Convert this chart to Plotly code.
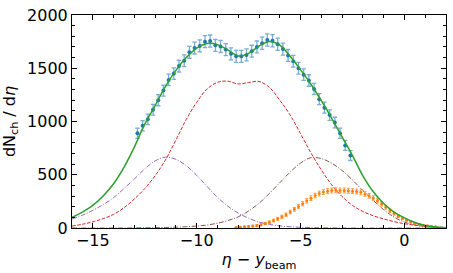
import plotly.graph_objects as go

# ---------------- data ----------------
curve_x = [-16, -15.5, -15, -14.5, -14, -13.5, -13, -12.5, -12, -11.5, -11, -10.5, -10, -9.5, -9,
           -8.5, -8, -7.5, -7, -6.5, -6, -5.5, -5, -4.5, -4, -3.5, -3, -2.5, -2, -1.5, -1, -0.5,
           0, 0.5, 1, 1.5, 2]
total_fit = [100, 150, 212, 300, 415, 570, 760, 975, 1150, 1330, 1480, 1600, 1690, 1732, 1722,
             1672, 1616, 1640, 1708, 1752, 1718, 1612, 1485, 1350, 1195, 1030, 855, 680, 490, 340,
             230, 150, 95, 52, 24, 9, 3]
central = [18, 35, 58, 88, 128, 190, 272, 370, 490, 640, 825, 1020, 1180, 1305, 1368,
           1378, 1352, 1366, 1376, 1320, 1200, 1060, 885, 705, 545, 405, 295, 212, 155, 115,
           85, 60, 40, 26, 16, 9, 5]
left_comp = [85, 120, 165, 220, 285, 370, 460, 555, 630, 665, 645, 585, 495, 390, 288,
             205, 140, 92, 56, 34, 20, 12, 7, 4, 2, 1, 0, 0, 0, 0,
             0, 0, 0, 0, 0, 0, 0]
right_comp = [0, 0, 0, 0, 0, 0, 1, 2, 3, 5, 8, 12, 18, 28, 45,
              70, 105, 160, 232, 325, 425, 525, 610, 660, 652, 608, 540, 450, 352, 258,
              172, 102, 55, 28, 13, 6, 2]

blue_x = [-12.85, -12.6, -12.35, -12.1, -11.85, -11.6, -11.35, -11.1, -10.85, -10.6, -10.35,
          -10.1, -9.85, -9.6, -9.35, -9.1, -8.85, -8.6, -8.35, -8.1, -7.85, -7.6, -7.35, -7.1,
          -6.85, -6.6, -6.35, -6.1, -5.85, -5.6, -5.35, -5.1, -4.85, -4.6, -4.35, -4.1, -3.85,
          -3.6, -3.35, -3.1, -2.85, -2.6]
blue_y = [890, 960, 1020, 1110, 1200, 1290, 1390, 1450, 1520, 1570, 1650,
          1690, 1710, 1750, 1755, 1715, 1705, 1675, 1635, 1612, 1612, 1625, 1660, 1700,
          1735, 1765, 1758, 1725, 1680, 1620, 1565, 1500, 1440, 1385, 1305, 1210, 1130,
          1060, 990, 890, 775, 680]
blue_err = [48, 48, 50, 50, 52, 52, 54, 54, 55, 55, 56,
            56, 57, 57, 57, 57, 57, 56, 56, 56, 56, 56, 56, 56,
            57, 57, 57, 57, 56, 56, 55, 55, 54, 54, 53, 52, 51,
            50, 50, 48, 47, 46]

orange_x = [-8.1, -7.9, -7.7, -7.5, -7.3, -7.1, -6.9, -6.7, -6.5, -6.3, -6.1, -5.9, -5.7, -5.5,
            -5.3, -5.1, -4.9, -4.7, -4.5, -4.3, -4.1, -3.9, -3.7, -3.5, -3.3, -3.1, -2.9, -2.7,
            -2.5, -2.3, -2.1, -1.9, -1.7, -1.5, -1.3, -1.1, -0.9, -0.7, -0.5, -0.3, -0.1, 0.1,
            0.3, 0.5, 0.7, 0.9, 1.1, 1.3, 1.5]
orange_y = [5, 8, 11, 14, 18, 23, 30, 42, 55, 70, 86, 105, 125, 150,
            175, 203, 228, 255, 280, 305, 323, 337, 346, 352, 354, 353, 352, 350,
            346, 342, 335, 320, 302, 282, 255, 225, 195, 162, 135, 110, 90, 72,
            57, 44, 34, 26, 20, 15, 11]
orange_err = [4, 5, 6, 7, 8, 9, 10, 11, 12, 13, 14, 15, 16, 17,
              18, 19, 20, 21, 22, 22, 23, 23, 23, 23, 23, 23, 23, 23,
              23, 23, 23, 22, 22, 21, 20, 19, 18, 16, 14, 12, 11, 10,
              9, 8, 7, 6, 5, 5, 4]

x_ticks = [-15, -10, -5, 0]
y_ticks = [0, 500, 1000, 1500, 2000]

# ---------------- figure ----------------
fig = go.Figure()

fig.add_trace(go.Scatter(x=curve_x, y=central, mode="lines", line_shape="spline",
                         line=dict(color="#d62728", width=1, dash="3.5px,1.6px")))
fig.add_trace(go.Scatter(x=curve_x, y=left_comp, mode="lines", line_shape="spline",
                         line=dict(color="#9467bd", width=1, dash="5px,1.6px,1px,1.6px")))
fig.add_trace(go.Scatter(x=curve_x, y=right_comp, mode="lines", line_shape="spline",
                         line=dict(color="#8c564b", width=1, dash="5px,1.6px,1px,1.6px")))
fig.add_trace(go.Scatter(x=orange_x, y=orange_y, mode="markers",
                         marker=dict(color="#ff7f0e", size=3),
                         error_y=dict(type="data", array=orange_err, color="rgba(255,127,14,0.75)",
                                      thickness=1, width=1.5)))
fig.add_trace(go.Scatter(x=blue_x, y=blue_y, mode="markers",
                         marker=dict(color="#1f77b4", size=4),
                         error_y=dict(type="data", array=blue_err, color="rgba(31,119,180,0.6)",
                                      thickness=1.3, width=2.2)))
fig.add_trace(go.Scatter(x=curve_x, y=total_fit, mode="lines", line_shape="spline",
                         line=dict(color="#2ca02c", width=1.5)))

font = dict(family="DejaVu Sans", size=16, color="black")

fig.update_layout(
    width=453, height=273,
    margin=dict(l=72, r=6, t=12, b=45),
    paper_bgcolor="white", plot_bgcolor="white",
    showlegend=False,
    font=font,
    xaxis=dict(range=[-16, 2], tickvals=x_ticks, ticks="inside", ticklen=5, tickwidth=1,
               tickcolor="black", showline=True, linecolor="black", linewidth=1,
               mirror="allticks", showgrid=False, zeroline=False, ticklabelstandoff=-2,
               minor=dict(ticks="inside", ticklen=3, dtick=1, tickcolor="black", showgrid=False),
               title=dict(text="<i>η</i> − <i>y</i><sub>beam</sub>", standoff=1,
                          font=dict(family="DejaVu Sans", size=16)),
               tickfont=font),
    yaxis=dict(range=[0, 2000], tickvals=y_ticks, ticks="inside", ticklen=5, tickwidth=1,
               tickcolor="black", showline=True, linecolor="black", linewidth=1,
               mirror="allticks", showgrid=False, zeroline=False,
               minor=dict(ticks="inside", ticklen=3, dtick=100, tickcolor="black", showgrid=False),
               title=dict(text="dN<sub>ch</sub> / d<i>η</i>", standoff=7,
                          font=dict(family="DejaVu Sans", size=16)),
               tickfont=font),
)

fig.write_html("out.html", config={"displayModeBar": False},
               post_script="document.body.style.margin='0';document.body.style.overflow='hidden';")
